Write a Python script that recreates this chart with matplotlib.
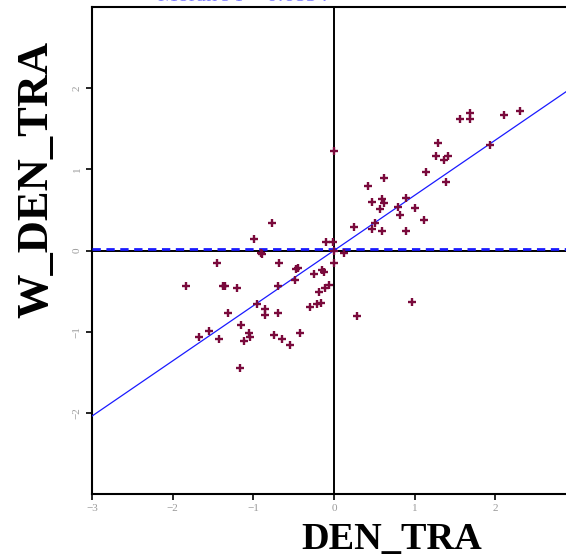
import matplotlib

matplotlib.use("Agg")
import matplotlib.pyplot as plt
import numpy as np

# Moran scatterplot: standardised DEN_TRA vs its spatial lag W_DEN_TRA
den_tra = [
    -1.84, -1.67, -1.545, -1.45, -1.42, -1.37, -1.35, -1.32, -1.20, -1.17,
    -1.15, -1.12, -1.05, -1.04, -0.99, -0.95, -0.90, -0.89, -0.85, -0.85,
    -0.77, -0.75, -0.70, -0.70, -0.68, -0.645, -0.55, -0.48, -0.47, -0.45,
    -0.425, -0.30, -0.25, -0.21, -0.18, -0.16, -0.15, -0.13, -0.11, -0.10,
    -0.06, -0.01, 0.0, 0.0, 0.0, 0.125, 0.25, 0.29, 0.42, 0.47,
    0.47, 0.51, 0.57, 0.59, 0.59, 0.62, 0.62, 0.79, 0.815, 0.89,
    0.89, 0.97, 1.01, 1.115, 1.14, 1.26, 1.29, 1.36, 1.39, 1.41,
    1.56, 1.68, 1.68, 1.93, 2.11, 2.31,
]
w_den_tra = [
    -0.44, -1.06, -0.99, -0.16, -1.09, -0.44, -0.44, -0.77, -0.46, -1.45,
    -0.92, -1.11, -1.02, -1.07, 0.14, -0.66, -0.03, -0.04, -0.72, -0.79,
    0.34, -1.04, -0.44, -0.77, -0.16, -1.09, -1.17, -0.36, -0.23, -0.21,
    -1.02, -0.69, -0.29, -0.66, -0.51, -0.65, -0.24, -0.26, -0.46, 0.11,
    -0.42, 0.11, 1.22, -0.16, 0.0, -0.03, 0.29, -0.81, 0.80, 0.60,
    0.27, 0.34, 0.51, 0.63, 0.24, 0.89, 0.59, 0.54, 0.44, 0.65,
    0.24, -0.64, 0.52, 0.37, 0.97, 1.17, 1.32, 1.12, 0.85, 1.17,
    1.62, 1.70, 1.62, 1.30, 1.67, 1.72,
]
slope = 0.68          # Moran's I (fitted line slope)
lag_mean = 0.02       # mean of the lag, dashed reference
x_ticks = [-3, -2, -1, 0, 1, 2]
y_ticks = [-2, -1, 0, 1, 2]

C_POINT = "#7a0a3c"
C_FIT = "#1a1aff"
C_TICK = "#9a9a9a"

plt.rcParams["font.family"] = ["Liberation Serif", "DejaVu Serif"]

fig = plt.figure(figsize=(5.66, 5.59), dpi=100)
# axes run past the right edge of the figure, as in the original crop
ax = fig.add_axes([92 / 566, 65 / 559, 484 / 566, 487 / 559])
ax.set_xlim(-3, 3)
ax.set_ylim(-3, 3)

ax.axhline(0, color="black", lw=1.4, zorder=2)
ax.axvline(0, color="black", lw=1.4, zorder=2)
ax.axhline(lag_mean, color=C_FIT, lw=2.0, ls=(0, (3, 2)), zorder=3)

xs = np.array([-3.0, 3.0])
ax.plot(xs, slope * xs, color=C_FIT, lw=0.9, zorder=3)

ax.plot(den_tra, w_den_tra, ls="none", marker="+", ms=5.5, mew=1.7,
        color=C_POINT, zorder=4)

ax.set_xticks(x_ticks)
ax.set_yticks(y_ticks)
ax.tick_params(axis="both", direction="out", length=4, width=1.2,
               labelsize=8, labelcolor=C_TICK, color="black")
for lab in ax.get_yticklabels():
    lab.set_rotation(90)
    lab.set_va("center")
for side in ("left", "top", "bottom"):
    ax.spines[side].set_linewidth(1.5)
ax.spines["right"].set_visible(False)

fig.text(392 / 566, 1 - 540 / 559, "DEN_TRA", ha="center", va="center",
         fontsize=27.5, fontweight="bold")
fig.text(36 / 566, 1 - 179 / 559, "W_DEN_TRA", ha="center", va="center",
         rotation=90, fontsize=32, fontweight="bold")
# title sits almost entirely above the visible area, as in the original crop
fig.text(158 / 566, 1 - 1 / 559, "Moran's I = 0.6854", ha="left",
         va="baseline", fontsize=16, color="#7f7fff")

fig.savefig("out.png", dpi=100)
